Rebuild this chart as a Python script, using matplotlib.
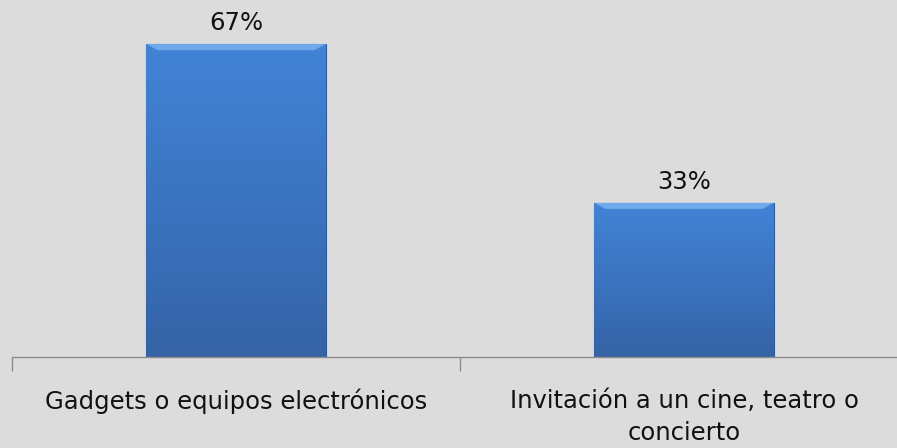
import numpy as np
import matplotlib
matplotlib.use("Agg")
import matplotlib.pyplot as plt
from matplotlib.colors import LinearSegmentedColormap

categories = ["Gadgets o equipos electrónicos", "Invitación a un cine, teatro o\nconcierto"]
values = [67, 33]
value_labels = ["67%", "33%"]

bg = "#DCDCDC"
fig = plt.figure(figsize=(8.97, 4.48), dpi=100, facecolor=bg)
ax = fig.add_axes([12 / 897, 91 / 448, 896 / 897, 357 / 448])
ax.set_facecolor(bg)

bars = ax.bar(range(len(values)), values, width=0.40, color="#3F7FD0",
              edgecolor="#2F5C98", linewidth=0.8, zorder=2)

# vertical gradient on each bar, clipped to the bar shape
cmap = LinearSegmentedColormap.from_list("bar", ["#3563A6", "#3B74C0", "#4283D6"])
grad = np.linspace(0, 1, 256).reshape(-1, 1)
for b in bars:
    x0, y0 = b.get_x(), b.get_y()
    w, h = b.get_width(), b.get_height()
    im = ax.imshow(grad, cmap=cmap, origin="lower", aspect="auto",
                   extent=[x0, x0 + w, y0, y0 + h], zorder=2.5)
    im.set_clip_path(b)
    # light bevel along the top
    ax.fill([x0, x0 + w, x0 + w - 0.025, x0 + 0.025],
            [y0 + h, y0 + h, y0 + h - 1.3, y0 + h - 1.3],
            color="#6FAAEB", lw=0, zorder=3)

for i, (v, lab) in enumerate(zip(values, value_labels)):
    ax.text(i, v + 2.0, lab, ha="center", va="bottom", fontsize=17.5, color="#111111")

ax.set_xlim(-0.5, 1.5)
ax.set_ylim(0, 357 / 4.67)
ax.set_yticks([])
ax.set_xticks([-0.5, 0.5, 1.5])
ax.set_xticklabels([])
ax.set_xticks([0, 1], minor=True)
ax.set_xticklabels(categories, minor=True, fontsize=17.5, color="#111111", linespacing=1.45)
ax.tick_params(axis="x", which="major", length=10, color="#8C8C8C", width=1)
ax.tick_params(axis="x", which="minor", length=0, pad=23)
for s in ["top", "left", "right"]:
    ax.spines[s].set_visible(False)
ax.spines["bottom"].set_color("#8C8C8C")
ax.spines["bottom"].set_linewidth(1)

fig.savefig("out.png", dpi=100, facecolor=bg)
